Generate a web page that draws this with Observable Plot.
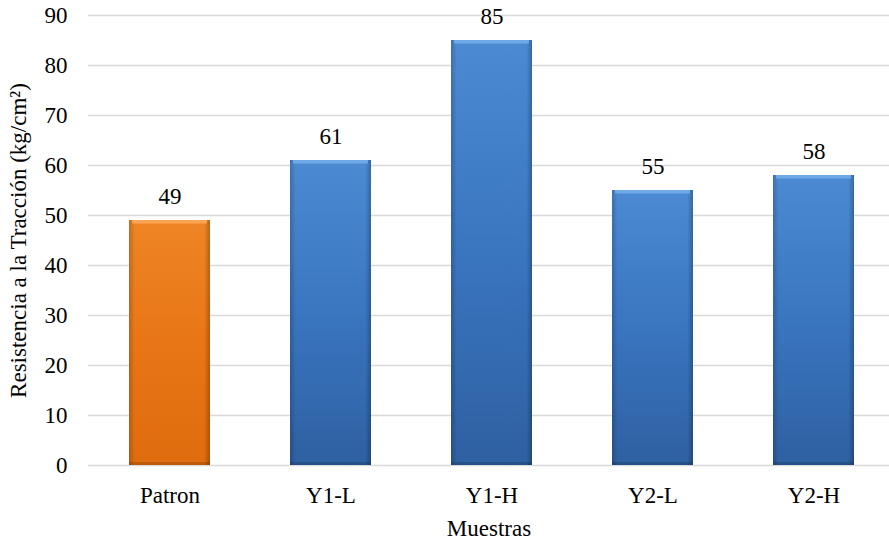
<!DOCTYPE html>
<html>
<head>
<meta charset="utf-8">
<script src="https://cdn.jsdelivr.net/npm/d3@7"></script>
<script src="https://cdn.jsdelivr.net/npm/@observablehq/plot@0.6"></script>
<style>
  html, body { margin: 0; padding: 0; background: #fff; }
  #chart svg { display: block; }
  #chart svg text { font-family: "Liberation Serif", "Times New Roman", serif !important; font-variant: normal !important; }
</style>
</head>
<body>
<svg width="0" height="0" style="position:absolute">
  <defs>
    <!-- vertical body shading -->
    <linearGradient id="gBlue" x1="0" y1="0" x2="0" y2="1">
      <stop offset="0" stop-color="#4f90dc"/>
      <stop offset="0.5" stop-color="#3c7ac8"/>
      <stop offset="1" stop-color="#3064a8"/>
    </linearGradient>
    <linearGradient id="gOrange" x1="0" y1="0" x2="0" y2="1">
      <stop offset="0" stop-color="#f88a26"/>
      <stop offset="0.5" stop-color="#f27b16"/>
      <stop offset="1" stop-color="#e8700e"/>
    </linearGradient>
    <!-- darker side edges for a bevelled look -->
    <linearGradient id="gSides" x1="0" y1="0" x2="1" y2="0">
      <stop offset="0" stop-color="#000" stop-opacity="0.22"/>
      <stop offset="0.07" stop-color="#000" stop-opacity="0.04"/>
      <stop offset="0.93" stop-color="#000" stop-opacity="0.04"/>
      <stop offset="1" stop-color="#000" stop-opacity="0.28"/>
    </linearGradient>
    <filter id="shadow" x="-20%" y="-5%" width="140%" height="110%">
      <feDropShadow dx="2" dy="0" stdDeviation="2" flood-color="#000" flood-opacity="0.18"/>
    </filter>
  </defs>
</svg>
<div id="chart"></div>
<script>
// Tensile strength per sample
const muestras = ["Patron", "Y1-L", "Y1-H", "Y2-L", "Y2-H"];
const resistencia = [49, 61, 85, 55, 58];
const yTicks = [0, 10, 20, 30, 40, 50, 60, 70, 80, 90];

const data = muestras.map((m, i) => ({muestra: m, valor: resistencia[i]}));
const bodyFill = d => d.muestra === "Patron" ? "url(#gOrange)" : "url(#gBlue)";
const topFill = d => d.muestra === "Patron" ? "#fbab62" : "#79b0ec";

const font = "Liberation Serif";
const fs = 23;

const chart = Plot.plot({
  width: 889,
  height: 545,
  marginLeft: 88,
  marginRight: 0,
  marginTop: 15,
  marginBottom: 80,
  style: {fontFamily: font, fontSize: fs + "px", color: "#000", background: "#fff"},
  x: {domain: muestras, range: [88, 894], paddingInner: 0.5, paddingOuter: 0.25, label: null},
  y: {domain: [0, 90], range: [465, 15], label: null},
  fill: {type: "identity"},
  marks: [
    Plot.ruleY(yTicks, {stroke: "#d9d9d9", strokeWidth: 1.6}),
    Plot.barY(data, {x: "muestra", y: "valor", fill: bodyFill, style: {filter: "url(#shadow)"}}),
    Plot.barY(data, {x: "muestra", y: "valor", fill: "url(#gSides)"}),
    Plot.barY(data, {x: "muestra", y1: d => d.valor, y2: d => d.valor - 0.7, fill: topFill, fillOpacity: 0.8, insetLeft: 3, insetRight: 3}),
    Plot.barY(data, {x: "muestra", y1: 0, y2: 0.6, fill: "#000", fillOpacity: 0.15}),
    Plot.text(data, {x: "muestra", y: "valor", text: d => String(d.valor), dy: -24, lineAnchor: "middle", fill: "#000", fontSize: fs, fontFamily: font, fontVariant: "normal"}),
    Plot.axisY({ticks: yTicks, tickSize: 0, tickPadding: 21, label: null, fontSize: fs, fontFamily: font, fontVariant: "normal"}),
    Plot.axisX({tickSize: 0, tickPadding: 21, label: null, fontSize: fs, fontFamily: font, fontVariant: "normal"}),
    Plot.text(["Muestras"], {frameAnchor: "bottom", dy: 63, lineAnchor: "middle", textAnchor: "middle", fill: "#000", fontSize: fs, fontFamily: font}),
    Plot.text(["Resistencia a la Tracción (kg/cm²)"], {frameAnchor: "left", dx: -70, rotate: -90, lineAnchor: "middle", textAnchor: "middle", fill: "#000", fontSize: fs, fontFamily: font})
  ]
});

document.getElementById("chart").appendChild(chart);
</script>
</body>
</html>
